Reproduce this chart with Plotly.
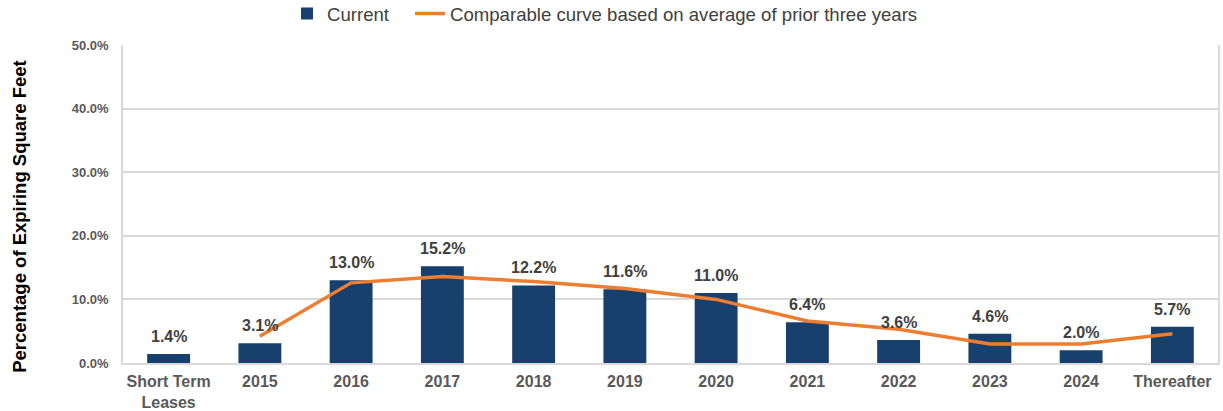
import plotly.graph_objects as go

categories = ["Short Term<br>Leases", "2015", "2016", "2017", "2018", "2019", "2020",
              "2021", "2022", "2023", "2024", "Thereafter"]
current = [1.4, 3.1, 13.0, 15.2, 12.2, 11.6, 11.0, 6.4, 3.6, 4.6, 2.0, 5.7]
comparable_x = categories[1:]
comparable = [4.2, 12.6, 13.6, 12.8, 11.7, 10.0, 6.6, 5.3, 3.0, 3.0, 4.6]
y_ticks = [0, 10, 20, 30, 40, 50]
y_tick_labels = ["0.0%", "10.0%", "20.0%", "30.0%", "40.0%", "50.0%"]

BAR = "#17406D"
LINE = "#ED7D31"
TXT = "#404040"
FONT = "Liberation Sans, Arial, sans-serif"

fig = go.Figure()
fig.add_trace(go.Bar(
    x=categories, y=current, name="Current",
    marker=dict(color=BAR, line=dict(width=0)),
    width=0.47, legend="legend",
))
fig.add_trace(go.Scatter(
    x=comparable_x, y=comparable, name="Comparable curve based on average of prior three years",
    mode="lines", line=dict(color=LINE, width=3.5), legend="legend2",
))

for i, v in enumerate(current):
    fig.add_annotation(x=i, y=v, text=f"{v:.1f}%", showarrow=False,
                       yanchor="bottom", yshift=7,
                       font=dict(family=FONT, size=16, color=TXT, weight="bold"))

fig.add_annotation(xref="paper", yref="paper", x=-0.094, y=0.46,
                   text="Percentage of Expiring Square Feet", textangle=-90,
                   showarrow=False, xanchor="center", yanchor="middle",
                   font=dict(family=FONT, size=18.5, color="#000000", weight="bold"))

legend_common = dict(orientation="h", xanchor="left", yref="paper", y=1.098, yanchor="middle",
                     font=dict(family=FONT, size=18.6, color=TXT), itemwidth=30,
                     bgcolor="rgba(0,0,0,0)")

fig.update_layout(
    width=1223, height=411,
    margin=dict(l=123, r=5, t=45, b=48, autoexpand=False),
    paper_bgcolor="white", plot_bgcolor="white",
    bargap=0.53,
    showlegend=True,
    legend=dict(x=0.1498, **legend_common),
    legend2=dict(x=0.2621, **legend_common),
    xaxis=dict(
        type="category", tickfont=dict(family=FONT, size=16, color="#595959", weight="bold"),
        showgrid=False, showline=True, linecolor="#D9D9D9", linewidth=1.5,
        ticks="", mirror=False, range=[-0.5, 11.5], automargin=False,
        ticklabelstandoff=3,
    ),
    yaxis=dict(
        range=[0, 50], tickvals=y_ticks, ticktext=y_tick_labels,
        tickfont=dict(family=FONT, size=13, color="#595959", weight="bold"),
        showgrid=True, gridcolor="#D9D9D9", gridwidth=1.5,
        showline=True, linecolor="#D9D9D9", linewidth=1.5, mirror=True,
        zeroline=False, ticks="", ticklabelstandoff=10, automargin=False,
    ),
)

fig.write_html("out.html", config={"displayModeBar": False},
               post_script="document.body.style.margin='0';")
